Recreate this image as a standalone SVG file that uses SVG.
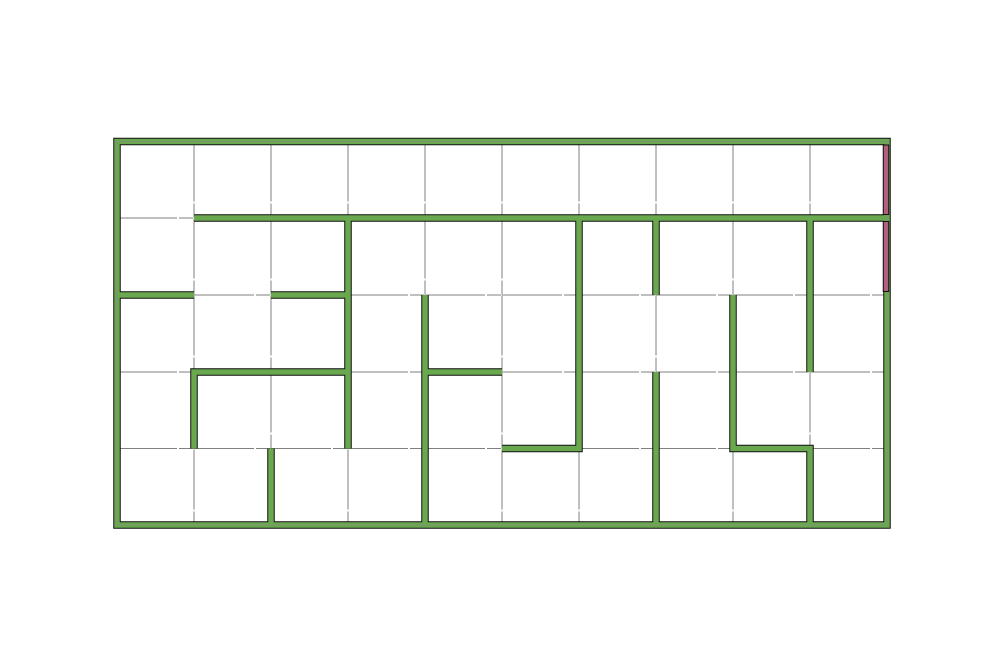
<svg xmlns="http://www.w3.org/2000/svg" width="1003" height="667" viewBox="0 0 1003 667">
<style>
.grid{stroke:#808080;stroke-width:1;fill:none;stroke-dasharray:60 2 14 1}
.wo{stroke:#111;stroke-width:7.5;fill:none;stroke-linejoin:miter;stroke-linecap:butt}
.wi{stroke:#6aa84f;stroke-width:5.5;fill:none;stroke-linejoin:miter;stroke-linecap:butt}
.ex{fill:#b0607e;stroke:#111;stroke-width:1}
.mid{stroke:#8a8a8a;stroke-width:1;fill:none;opacity:0.6}
</style>
<rect width="1003" height="667" fill="#ffffff"/>
<g id="grid">
<path class="grid" d="M194 141.5V525M271 141.5V525M348 141.5V525M425 141.5V525M502 141.5V525M579 141.5V525M656 141.5V525M733 141.5V525M810 141.5V525"/>
<path class="grid" d="M117 218H887M117 295H887M117 372H887M117 448.5H887"/>
</g>
<g id="walls">
<path class="wo" d="M117 141.5H887V525H117Z M194 218H887 M117 295H194 M271 295H348 M348 218V448.5 M194 448.5V372H348 M271 448.5V525 M425 295V525 M425 372H502 M502 448.5H579V218 M656 218V295 M656 372V525 M733 295V448.5H810V525 M810 218V372"/>
<path class="wi" d="M117 141.5H887V525H117Z M194 218H887 M117 295H194 M271 295H348 M348 218V448.5 M194 448.5V372H348 M271 448.5V525 M425 295V525 M425 372H502 M502 448.5H579V218 M656 218V295 M656 372V525 M733 295V448.5H810V525 M810 218V372"/>
<path class="mid" d="M117 141.5H887V525H117Z"/>
</g>
<g id="exit">
<rect class="ex" x="883.25" y="145" width="5.5" height="69.5"/>
<rect class="ex" x="883.25" y="221.5" width="5.5" height="70"/>
</g>
</svg>
